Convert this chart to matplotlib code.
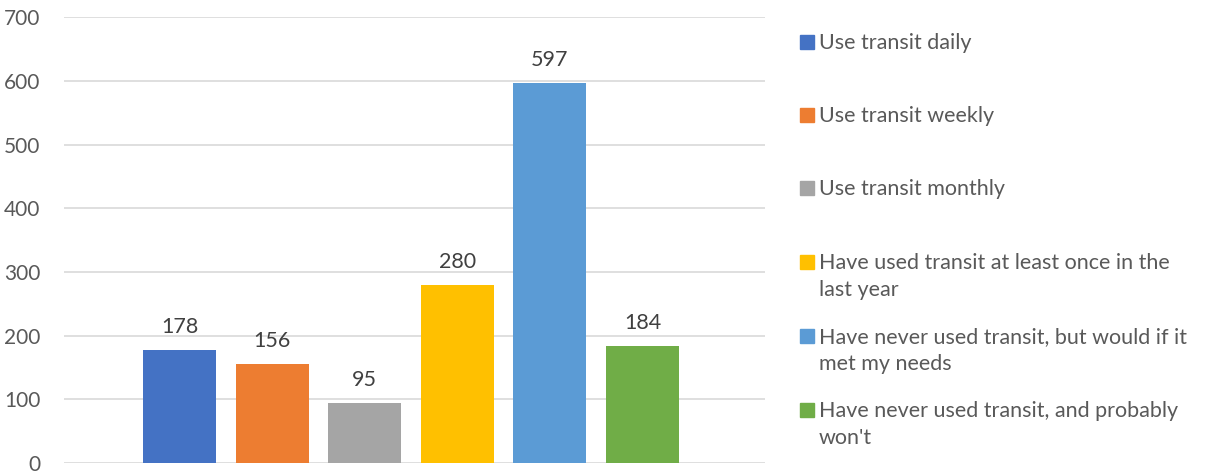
import matplotlib.pyplot as plt
from matplotlib.patches import Rectangle

categories = [
    "Use transit daily",
    "Use transit weekly",
    "Use transit monthly",
    "Have used transit at least once in the\nlast year",
    "Have never used transit, but would if it\nmet my needs",
    "Have never used transit, and probably\nwon't",
]
counts = [178, 156, 95, 280, 597, 184]
colors = ["#4472C4", "#ED7D31", "#A5A5A5", "#FFC000", "#5B9BD5", "#70AD47"]
yticks = [0, 100, 200, 300, 400, 500, 600, 700]

plt.rcParams['font.family'] = ['Lato', 'DejaVu Sans']
FS = 15.5

fig = plt.figure(figsize=(12.06, 4.75), dpi=100)
ax = fig.add_axes([0.053, 0.025, 0.581, 0.939])

xs = list(range(len(counts)))
ax.bar(xs, counts, width=0.79, color=colors, zorder=3)
for x, v in zip(xs, counts):
    ax.text(x, v + 20, str(v), ha='center', va='bottom', fontsize=FS, color='#404040')

ax.set_xlim(-1.25, 6.32)
ax.set_ylim(0, 700)
ax.set_yticks(yticks)
ax.set_xticks([])
ax.grid(axis='y', color='#d9d9d9', linewidth=1.2, zorder=0)
ax.tick_params(axis='y', length=0, pad=17, labelsize=15, labelcolor='#595959')
for s in ax.spines.values():
    s.set_visible(False)

# legend drawn by hand so the swatch sits on the first text line
W, H = 1206.0, 475.0
legend_y = [43, 116, 189, 263, 337, 411]
for lab, col, y in zip(categories, colors, legend_y):
    fig.add_artist(Rectangle((800 / W, 1 - (y + 6) / H), 14 / W, 14 / H,
                             transform=fig.transFigure, color=col))
    fig.text(819 / W, 1 - (y - 10) / H, lab, ha='left', va='top',
             fontsize=FS, color='#595959', linespacing=1.45)

fig.savefig("out.png", dpi=100)
